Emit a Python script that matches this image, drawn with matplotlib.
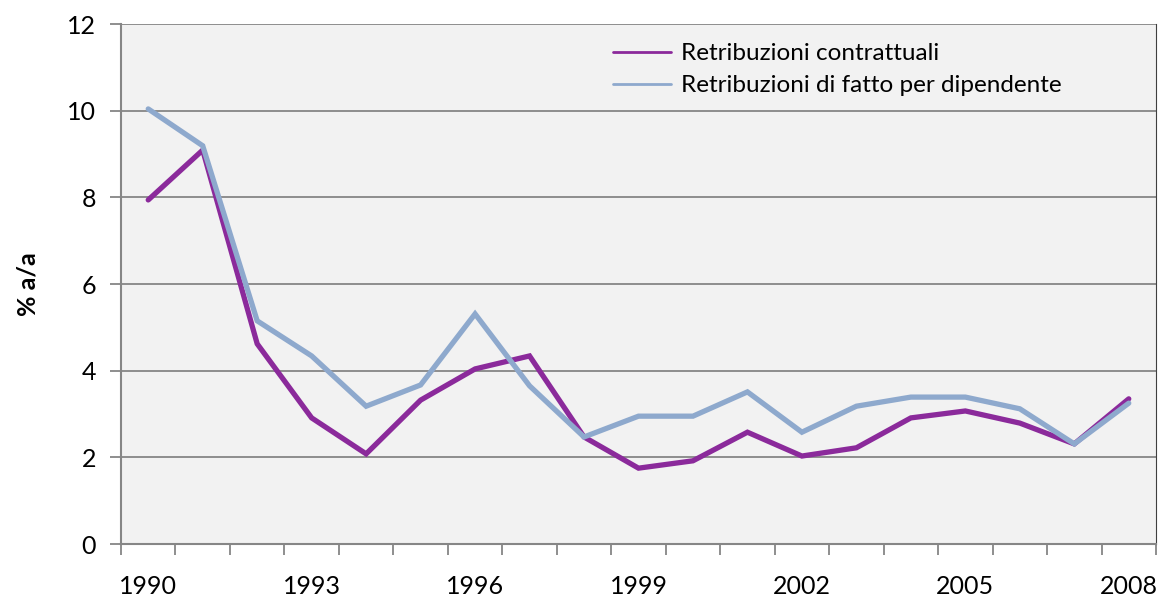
import matplotlib.pyplot as plt
import numpy as np

years = list(range(1990, 2009))
contrattuali = [7.94, 9.09, 4.62, 2.91, 2.08, 3.32, 4.04, 4.34, 2.47, 1.75, 1.92,
                2.58, 2.03, 2.22, 2.91, 3.07, 2.79, 2.31, 3.35]
fatto = [10.04, 9.19, 5.15, 4.34, 3.18, 3.67, 5.31, 3.65, 2.47, 2.95, 2.95,
         3.51, 2.58, 3.18, 3.39, 3.39, 3.12, 2.31, 3.25]
label_years = [1990, 1993, 1996, 1999, 2002, 2005, 2008]
y_ticks = [0, 2, 4, 6, 8, 10, 12]

plt.rcParams['font.family'] = ['Lato', 'DejaVu Sans']

fig = plt.figure(figsize=(11.6, 6.03), dpi=100)
ax = fig.add_axes([121/1160, 59/603, 1035/1160, 520/603])
ax.set_facecolor('#F2F2F2')

x = np.arange(len(years))
ax.plot(x, contrattuali, color='#8B2A9B', lw=3.8, solid_capstyle='round',
        solid_joinstyle='miter', label='Retribuzioni contrattuali', zorder=3)
ax.plot(x, fatto, color='#8EA9CD', lw=3.8, solid_capstyle='round',
        solid_joinstyle='miter', label='Retribuzioni di fatto per dipendente', zorder=3)

ax.set_xlim(-0.5, len(years) - 0.5)
ax.set_ylim(0, 12)
ax.set_yticks(y_ticks)
ax.yaxis.grid(True, color='#868686', lw=1.3)
ax.set_axisbelow(True)

# tick marks at category boundaries, labels at category centers
ax.set_xticks(np.arange(-0.5, len(years)), minor=True)
ax.set_xticks([years.index(y) for y in label_years])
ax.set_xticklabels([str(y) for y in label_years])
ax.tick_params(axis='x', which='minor', length=8, width=1.3, color='#868686')
ax.tick_params(axis='x', which='major', length=0, pad=22, labelsize=18)
ax.tick_params(axis='y', length=8, width=1.3, color='#868686', labelsize=18, pad=10)

for s in ['left', 'bottom']:
    ax.spines[s].set_color('#868686')
    ax.spines[s].set_linewidth(1.5)
ax.spines['top'].set_visible(False)
ax.spines['right'].set_color('#404040')
ax.spines['right'].set_linewidth(0.8)

ax.set_ylabel('% a/a', fontsize=18, fontweight='bold', labelpad=20)

leg = ax.legend(loc='upper right', bbox_to_anchor=(0.93, 1.005), frameon=False,
                fontsize=17.5, handlelength=2.4, handletextpad=0.4, labelspacing=0.45)
for line in leg.get_lines():
    line.set_linewidth(2)

fig.savefig('out.png', dpi=100)
